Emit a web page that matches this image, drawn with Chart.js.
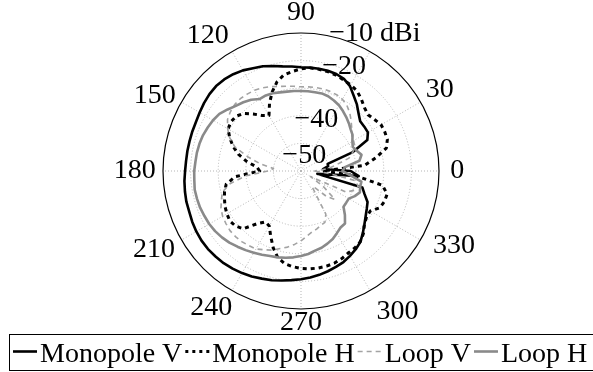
<!DOCTYPE html>
<html>
<head>
<meta charset="utf-8">
<script src="https://cdn.jsdelivr.net/npm/chart.js@4.4.0/dist/chart.umd.min.js"></script>
<style>
html, body { margin: 0; padding: 0; background: #fff; }
canvas { display: block; }
</style>
</head>
<body>
<canvas id="c" width="593" height="372"></canvas>
<script>
// Azimuth (degrees, counter-clockwise from 0 on the right)
const angleDeg = [
  0, 5, 10, 15, 20, 25, 30, 35, 40, 45, 50, 55,
  60, 65, 70, 75, 80, 85, 90, 95, 100, 105, 110, 115,
  120, 125, 130, 135, 140, 145, 150, 155, 160, 165, 170, 175,
  180, 185, 190, 195, 200, 205, 210, 215, 220, 225, 230, 235,
  240, 245, 250, 255, 260, 265, 270, 275, 280, 285, 290, 295,
  300, 305, 310, 315, 320, 325, 330, 335, 340, 345, 350, 355
];

// Gain in dBi at each azimuth
const monopoleV = [
  -42, -52, -50, -50, -40, -33.5, -32, -32, -32, -30.5, -28.5, -26.7,
  -24.5, -23.2, -22.6, -22.4, -22.4, -22.4, -22.4, -22, -21.5, -20.6, -19.6, -18.9,
  -17.9, -17.2, -16.7, -16.5, -16.7, -17.1, -17.6, -18, -18.1, -18.2, -18.2, -18.2,
  -18, -17.6, -17.3, -17, -16.9, -16.5, -16.2, -16, -16, -16.2, -16.4, -16.8,
  -17.3, -17.8, -18.5, -19, -19.7, -20.3, -20.8, -21.3, -21.8, -22.4, -23, -23.6,
  -24.5, -25.4, -26.5, -28.3, -30, -31.4, -32.5, -33.4, -35.5, -37, -54, -39
];
const monopoleH = [
  -52, -37, -32.5, -28, -26.7, -26.5, -26.5, -27.5, -28.3, -27.5, -26, -24.6,
  -24, -23.6, -23, -22.7, -22.6, -22.5, -23, -23.8, -24.6, -26.5, -29.5, -33,
  -36.8, -35.5, -33, -30.5, -29.2, -29, -29.5, -31.5, -33.8, -36.5, -40, -44,
  -45, -36, -32.5, -31.3, -30.5, -29.6, -29, -28.5, -29, -30.4, -35, -37.5,
  -37, -34, -30.5, -27.5, -25.9, -25.2, -24.7, -24.4, -24.3, -24.3, -24.5, -25,
  -25.7, -26, -26.6, -28, -30, -31, -31, -28.5, -27.8, -27.7, -30, -40
];
const loopV = [
  -55, -50, -47, -42, -40, -38.5, -38, -37.5, -36, -34.3, -32.5, -31,
  -30, -29.5, -29.3, -29.2, -29.3, -29.4, -29.5, -29.2, -28.8, -28.3, -27.5, -26.8,
  -26.2, -26, -25.8, -26, -26.6, -27.5, -29.3, -31.5, -34.5, -40, -45, -50,
  -48, -40, -34, -30.5, -29.3, -28, -27.2, -26.8, -26.4, -26.4, -26.6, -27,
  -27.4, -28.5, -29.5, -30.9, -32, -33.3, -34.7, -36.3, -37.5, -38.2, -39, -39.5,
  -42, -53, -52, -47, -44, -50, -56, -42, -39.5, -38.5, -40, -50
];
const loopH = [
  -45, -44, -38.5, -37.3, -38.5, -39.3, -38.5, -37.2, -36.5, -35.5, -34.5, -33.5,
  -32.5, -31.8, -31.2, -30.9, -31, -31, -31, -30.9, -30.8, -30.5, -30, -29.8,
  -29.9, -28.5, -27.5, -26.6, -25.3, -23.9, -23.2, -22.7, -22.2, -21.9, -21.7, -21.6,
  -21.3, -21.2, -20.9, -21, -21.1, -21.4, -21.6, -22, -22.6, -23.3, -24.2, -25,
  -25.8, -26.5, -27.2, -27.6, -28.1, -28.6, -29.2, -29.8, -30.7, -31.2, -32, -32.8,
  -34, -35, -35.2, -37.5, -39.9, -40, -40, -38.5, -37.3, -37.8, -37.8, -42
];

// Radial axis range and the ring labels printed on it
const rMin = -60;
const rMax = -10;
const rStep = 10;
const ringTicks = [-50, -40, -20, -10];
const ringTickText = ['\u221250', '\u221240', '\u221220', '\u221210 dBi'];

// Spoke labels (degrees)
const spokeTicks = [0, 30, 90, 120, 150, 180, 210, 240, 270, 300, 330];

const seriesNames = ['Monopole V', 'Monopole H', 'Loop V', 'Loop H'];

const FONT = '"Liberation Serif", "Times New Roman", Times, serif';
const N = angleDeg.length;
const stepDeg = 360 / N;

// Radar scale runs clockwise; walk the azimuths backwards so angles grow counter-clockwise.
const toRadar = arr => arr.map((_, i) => arr[(N - i) % N]);
const radarIndexOf = deg => ((360 - deg) % 360) / stepDeg;

const styles = [
  { color: '#000000', width: 2.6, dash: [] },
  { color: '#000000', width: 3, dash: [4, 4] },
  { color: '#a3a3a3', width: 1.6, dash: [5, 4] },
  { color: '#8a8a8a', width: 2.6, dash: [] }
];
const seriesData = [monopoleV, monopoleH, loopV, loopH];

// Where the labels sit relative to the plot centre, in units of the outer radius
const spokeLabelLayout = {
  0: [1.132, 0], 30: [1.166, 0.4], 90: [1.145, 0], 120: [1.192, 4.5],
  150: [1.191, 2.9], 180: [1.205, 0], 210: [1.207, -2], 240: [1.187, -3.2],
  270: [1.101, 0], 300: [1.235, 4.5], 330: [1.234, 3.9]
};
const ringLabelLayout = {
  '-50': [-0.135, -0.061], '-40': [-0.048, -0.316],
  '-20': [0.154, -0.706], '-10': [0.205, -0.940]
};

const polarDecor = {
  id: 'polarDecor',
  afterDatasetsDraw(chart) {
    const s = chart.scales.r;
    const ctx = chart.ctx;
    const R = s.drawingArea;
    ctx.save();
    // outer boundary circle
    ctx.beginPath();
    ctx.strokeStyle = '#000';
    ctx.lineWidth = 1.2;
    ctx.setLineDash([]);
    ctx.arc(s.xCenter, s.yCenter, s.getDistanceFromCenterForValue(rMax), 0, Math.PI * 2);
    ctx.stroke();

    ctx.fillStyle = '#000';
    ctx.font = '28px ' + FONT;
    // spoke labels
    ctx.textAlign = 'center';
    ctx.textBaseline = 'middle';
    spokeTicks.forEach(deg => {
      const [k, turn] = spokeLabelLayout[deg];
      const p = s.getPointPosition(radarIndexOf(deg + turn), R * k);
      ctx.fillText(String(deg), p.x, p.y);
    });
    // ring labels
    ctx.textAlign = 'left';
    ctx.textBaseline = 'alphabetic';
    ringTicks.forEach((v, i) => {
      const [fx, fy] = ringLabelLayout[String(v)];
      ctx.fillText(ringTickText[i], s.xCenter + fx * R, s.yCenter + fy * R);
    });
    ctx.restore();
  }
};

const boxedLegend = {
  id: 'boxedLegend',
  afterDraw(chart) {
    const ctx = chart.ctx;
    ctx.save();
    ctx.strokeStyle = '#000';
    ctx.lineWidth = 1;
    ctx.setLineDash([]);
    ctx.strokeRect(9.5, 334.5, 600, 36);
    ctx.font = '28px ' + FONT;
    ctx.fillStyle = '#000';
    ctx.textAlign = 'left';
    ctx.textBaseline = 'alphabetic';
    let x = 13;
    const yLine = 351.5;
    const yText = 361.5;
    seriesNames.forEach((name, i) => {
      const st = styles[i];
      ctx.beginPath();
      ctx.strokeStyle = st.color;
      ctx.lineWidth = st.width;
      ctx.setLineDash(i === 1 ? [3, 4] : st.dash);
      ctx.moveTo(x, yLine);
      ctx.lineTo(x + 24, yLine);
      ctx.stroke();
      ctx.fillText(name, x + 27, yText);
      x += 27 + ctx.measureText(name).width + 3;
    });
    ctx.restore();
  }
};

new Chart(document.getElementById('c'), {
  type: 'radar',
  data: {
    labels: angleDeg.map(() => ''),
    datasets: seriesData.map((arr, i) => ({
      label: seriesNames[i],
      data: toRadar(arr),
      borderColor: styles[i].color,
      borderWidth: styles[i].width,
      borderDash: styles[i].dash,
      borderCapStyle: 'butt',
      borderJoinStyle: 'round',
      fill: false,
      pointRadius: 0,
      tension: 0,
      order: 3 - i
    }))
  },
  options: {
    responsive: false,
    animation: false,
    devicePixelRatio: 1,
    layout: { padding: { top: 33, bottom: 62, left: 20, right: 10 } },
    plugins: { legend: { display: false }, tooltip: { enabled: false } },
    scales: {
      r: {
        min: rMin,
        max: rMax,
        startAngle: 90,
        ticks: { display: false, stepSize: rStep },
        pointLabels: { display: false },
        grid: {
          circular: true,
          color: c => (c.tick && c.tick.value === rMax) ? 'rgba(0,0,0,0)' : '#b5b5b5',
          lineWidth: 1
        },
        border: { dash: [1, 2] },
        angleLines: {
          display: true,
          color: c => (c.index % 6 === 0) ? '#b5b5b5' : 'rgba(0,0,0,0)',
          lineWidth: 1,
          borderDash: [1, 2]
        }
      }
    }
  },
  plugins: [polarDecor, boxedLegend]
});
</script>
</body>
</html>
